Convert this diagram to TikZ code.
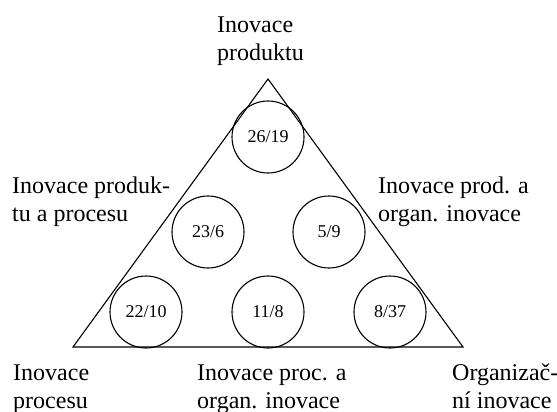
\documentclass[tikz,border=0pt]{standalone}
\usepackage{fontspec}
\setmainfont{Liberation Serif}
\tikzset{
  field/.style={draw, circle, line width=1.1pt, minimum size=72pt, inner sep=0pt, font=\fontsize{18}{20}\selectfont},
  corner/.style={align=left, inner sep=0pt, anchor=base west, font=\fontsize{24}{28}\selectfont}
}
\begin{document}
\begin{tikzpicture}[x=1pt, y=-1pt]
      \useasboundingbox (0, 0) rectangle (557, 412);

      \coordinate (top) at (268, 79);
      \coordinate (bl) at (73, 347);
      \coordinate (br) at (463, 347);
      \draw [line width=1.1pt, line join=miter] (top) -- (bl) -- (br) -- cycle;

      \node [field] (prod) at (268, 137) {26/19};
      \node [field] (prodproc) at (208, 232) {23/6};
      \node [field] (prodorg) at (329, 232) {5/9};
      \node [field] (proc) at (146, 312) {22/10};
      \node [field] (procorg) at (268, 312) {11/8};
      \node [field] (org) at (390, 312) {8/37};

      % base anchor sits on the last line
      \node [corner] (lprod) at (217, 60) {Inovace\\produktu};
      \node [corner] (lprodproc) at (12, 221) {Inovace produk-\\tu a procesu};
      \node [corner] (lprodorg) at (378, 221) {Inovace prod. a\\organ. inovace};
      \node [corner] (lproc) at (13, 408) {Inovace\\procesu};
      \node [corner] (lprocorg) at (197, 408) {Inovace proc. a\\organ. inovace};
      \node [corner] (lorg) at (452, 408) {Organizač-\\ní inovace};
    \end{tikzpicture}
\end{document}
